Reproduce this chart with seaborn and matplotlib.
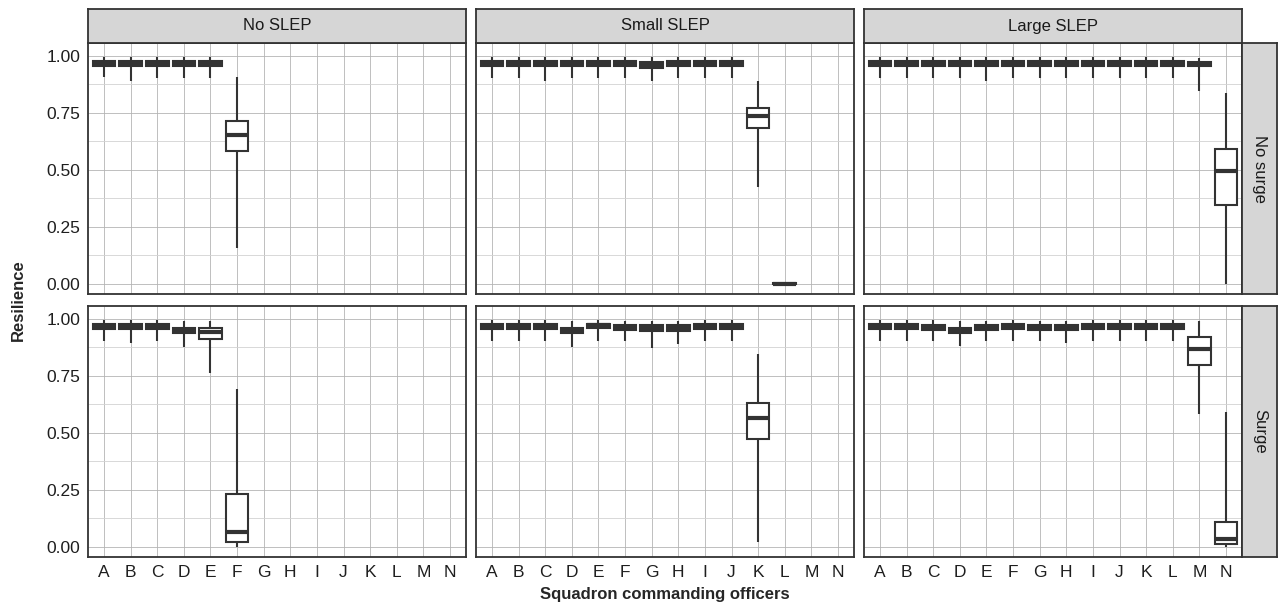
"""
Resilience of squadron commanding officers, by SLEP option and surge
"""
import pandas as pd
import numpy as np
import matplotlib
matplotlib.use("Agg")
import matplotlib.pyplot as plt
from matplotlib.ticker import MultipleLocator
import seaborn as sns

officers = list("ABCDEFGHIJKLMN")
slep_options = ["No SLEP", "Small SLEP", "Large SLEP"]
surge_options = ["No surge", "Surge"]

# five-number summaries per officer: (low whisker, q1, median, q3, high whisker)
# None where the officer does not appear in that scenario
flat = (0.90, 0.955, 0.965, 0.975, 0.995)

no_surge_no_slep = [
    (0.905, 0.955, 0.965, 0.975, 0.995), (0.89, 0.955, 0.965, 0.975, 0.995),
    (0.90, 0.955, 0.965, 0.975, 0.995), (0.90, 0.955, 0.965, 0.975, 0.995),
    (0.90, 0.955, 0.965, 0.975, 0.995), (0.155, 0.583, 0.653, 0.712, 0.905),
    None, None, None, None, None, None, None, None,
]
no_surge_small_slep = [
    flat, flat, (0.89, 0.955, 0.965, 0.975, 0.995), flat, flat, flat,
    (0.89, 0.945, 0.96, 0.972, 0.995), flat, flat, flat,
    (0.425, 0.684, 0.737, 0.772, 0.89), (0.0, 0.0, 0.0, 0.003, 0.006),
    None, None,
]
no_surge_large_slep = [
    flat, flat, flat, flat, (0.89, 0.955, 0.965, 0.975, 0.995), flat,
    flat, flat, flat, flat, flat, flat,
    (0.845, 0.955, 0.965, 0.972, 0.99), (0.0, 0.346, 0.492, 0.592, 0.838),
]
surge_no_slep = [
    flat, (0.895, 0.955, 0.965, 0.975, 0.995), flat,
    (0.877, 0.935, 0.948, 0.958, 0.99), (0.762, 0.912, 0.94, 0.958, 0.99),
    (0.0, 0.02, 0.065, 0.232, 0.69),
    None, None, None, None, None, None, None, None,
]
surge_small_slep = [
    flat, flat, flat, (0.875, 0.935, 0.945, 0.958, 0.99),
    (0.90, 0.96, 0.97, 0.978, 0.995), (0.90, 0.952, 0.962, 0.972, 0.99),
    (0.873, 0.945, 0.958, 0.97, 0.99), (0.89, 0.945, 0.958, 0.97, 0.99),
    flat, flat, (0.02, 0.474, 0.566, 0.632, 0.843),
    None, None, None,
]
surge_large_slep = [
    flat, flat, (0.90, 0.95, 0.96, 0.972, 0.995), (0.88, 0.935, 0.945, 0.958, 0.99),
    (0.90, 0.952, 0.962, 0.972, 0.99), flat, (0.90, 0.952, 0.962, 0.972, 0.99),
    (0.895, 0.948, 0.958, 0.97, 0.99), flat, flat, flat, flat,
    (0.583, 0.798, 0.868, 0.921, 0.99), (0.0, 0.013, 0.035, 0.11, 0.592),
]

panels = {
    ("No surge", "No SLEP"): no_surge_no_slep,
    ("No surge", "Small SLEP"): no_surge_small_slep,
    ("No surge", "Large SLEP"): no_surge_large_slep,
    ("Surge", "No SLEP"): surge_no_slep,
    ("Surge", "Small SLEP"): surge_small_slep,
    ("Surge", "Large SLEP"): surge_large_slep,
}

rows = []
for (surge, slep), summaries in panels.items():
    for officer, summary in zip(officers, summaries):
        if summary is None:
            continue
        for value in summary:
            rows.append({"surge": surge, "slep": slep, "officer": officer, "resilience": value})
data = pd.DataFrame(rows)

sns.set_style("white")
plt.rcParams["font.family"] = ["Liberation Sans", "DejaVu Sans"]

W, H = 1279, 611
dark = "#333333"
fig = plt.figure(figsize=(W / 100, H / 100), dpi=100)


def px_axes(left, top, right, bottom):
    return fig.add_axes([left / W, 1 - bottom / H, (right - left) / W, (bottom - top) / H])


col_left = [88, 476, 864]
col_width = 378
row_top = [43, 306]
row_height = 251

for i, surge in enumerate(surge_options):
    for j, slep in enumerate(slep_options):
        l, t = col_left[j], row_top[i]
        ax = px_axes(l, t, l + col_width, t + row_height)
        subset = data[(data["surge"] == surge) & (data["slep"] == slep)]
        sns.boxplot(
            data=subset, x="officer", y="resilience", order=officers,
            whis=(0, 100), width=0.85, color="white", linecolor=dark,
            linewidth=1.5, showcaps=False, showfliers=False,
            medianprops=dict(linewidth=3, color=dark), ax=ax)
        ax.set_xlim(-0.6, 13.6)
        ax.set_ylim(-0.045, 1.055)
        ax.set_yticks([0, 0.25, 0.5, 0.75, 1.0])
        ax.yaxis.set_minor_locator(MultipleLocator(0.125))
        ax.set_axisbelow(True)
        ax.grid(which="major", color="#b4b4b4", linewidth=0.6)
        ax.grid(which="minor", axis="y", color="#d2d2d2", linewidth=0.6)
        ax.set_xlabel("")
        ax.set_ylabel("")
        for spine in ax.spines.values():
            spine.set_visible(True)
            spine.set_color(dark)
            spine.set_linewidth(1.3)
        ax.tick_params(which="minor", length=0)
        ax.tick_params(which="major", direction="out", length=3.5, width=1,
                       color=dark, labelsize=12.5, labelcolor="#1e1e1e", pad=2)
        if j > 0:
            ax.tick_params(left=False, labelleft=False)
        else:
            ax.set_yticklabels(["0.00", "0.25", "0.50", "0.75", "1.00"])
        if i == 0:
            ax.tick_params(bottom=False, labelbottom=False)

# strips
for j, slep in enumerate(slep_options):
    s = px_axes(col_left[j], 9, col_left[j] + col_width, 43)
    s.set_facecolor("#d6d6d6")
    s.set_xticks([])
    s.set_yticks([])
    for spine in s.spines.values():
        spine.set_color(dark)
        spine.set_linewidth(1.3)
    s.text(0.5, 0.5, slep, ha="center", va="center", fontsize=12, color="#1a1a1a",
           transform=s.transAxes)

for i, surge in enumerate(surge_options):
    s = px_axes(1242, row_top[i], 1277, row_top[i] + row_height)
    s.set_facecolor("#d6d6d6")
    s.set_xticks([])
    s.set_yticks([])
    for spine in s.spines.values():
        spine.set_color(dark)
        spine.set_linewidth(1.3)
    s.text(0.5, 0.5, surge, ha="center", va="center", rotation=270, fontsize=12,
           color="#1a1a1a", transform=s.transAxes)

fig.text(18 / W, 1 - 300 / H, "Resilience", rotation=90, ha="center", va="center",
         fontsize=12, fontweight="bold")
fig.text(665 / W, 1 - 594 / H, "Squadron commanding officers", ha="center", va="center",
         fontsize=12, fontweight="bold")

fig.savefig("out.png", dpi=100, facecolor="white")
